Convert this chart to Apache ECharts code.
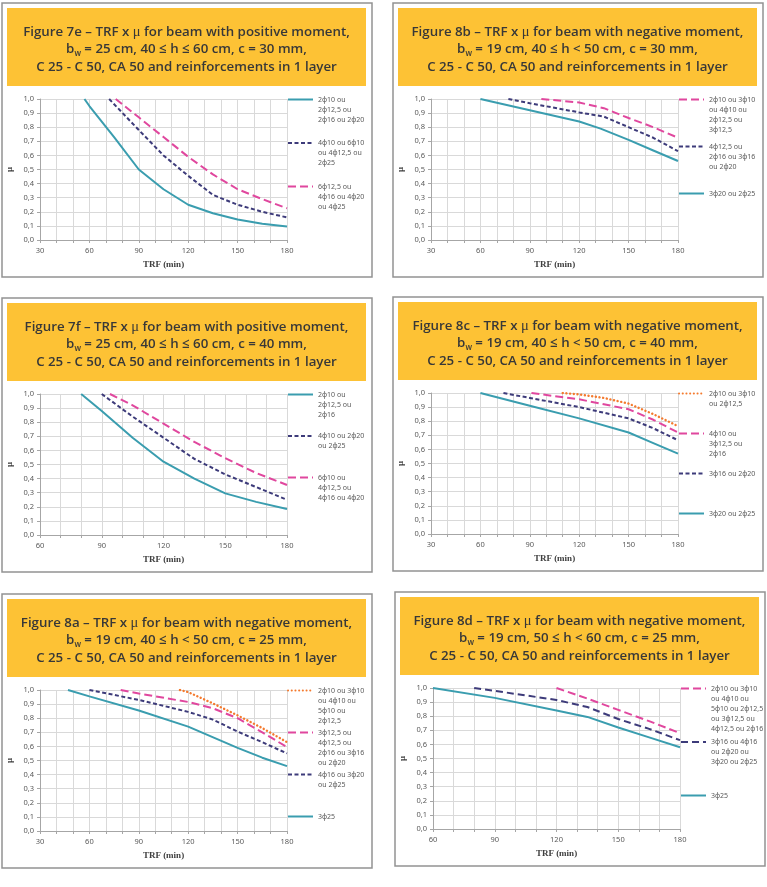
<!DOCTYPE html>
<html>
<head>
<meta charset="utf-8">
<script src="https://cdn.jsdelivr.net/npm/echarts@6.0.0/dist/echarts.min.js"></script>
<style>
  html, body { margin: 0; padding: 0; background: #fff; }
  #main { width: 767px; height: 887px; }
</style>
</head>
<body>
<div id="main"></div>
<script>
// ---- data: [TRF (min), mu] ----
var f7e_teal = [[57, 1.0], [60, 0.95], [75, 0.73], [90, 0.5], [105, 0.36], [120, 0.25], [135, 0.19], [150, 0.145], [165, 0.115], [180, 0.095]];
var f7e_navy = [[72, 1.0], [90, 0.78], [105, 0.6], [120, 0.455], [135, 0.32], [150, 0.25], [165, 0.2], [180, 0.16]];
var f7e_pink = [[76, 1.0], [90, 0.87], [105, 0.73], [120, 0.59], [135, 0.465], [150, 0.36], [165, 0.29], [180, 0.225]];

var f8b_pink = [[97, 1.0], [120, 0.975], [135, 0.935], [150, 0.865], [165, 0.8], [180, 0.725]];
var f8b_navy = [[77, 1.0], [90, 0.97], [120, 0.905], [135, 0.875], [150, 0.8], [165, 0.725], [180, 0.63]];
var f8b_teal = [[60, 1.0], [90, 0.92], [120, 0.84], [133, 0.79], [150, 0.71], [165, 0.635], [180, 0.56]];

var f7f_teal = [[80, 1.0], [90, 0.88], [105, 0.69], [120, 0.52], [135, 0.4], [150, 0.295], [165, 0.235], [180, 0.185]];
var f7f_navy = [[90, 1.0], [105, 0.84], [120, 0.69], [135, 0.54], [150, 0.43], [165, 0.34], [180, 0.25]];
var f7f_pink = [[94, 1.0], [105, 0.92], [120, 0.79], [135, 0.66], [150, 0.545], [165, 0.44], [180, 0.355]];

var f8c_orange = [[110, 1.0], [120, 0.99], [135, 0.965], [150, 0.925], [165, 0.85], [180, 0.765]];
var f8c_pink = [[91, 1.0], [120, 0.955], [150, 0.885], [165, 0.81], [180, 0.72]];
var f8c_navy = [[74, 1.0], [90, 0.965], [120, 0.9], [150, 0.82], [165, 0.75], [180, 0.665]];
var f8c_teal = [[60, 1.0], [90, 0.91], [120, 0.82], [150, 0.72], [165, 0.645], [180, 0.57]];

var f8a_orange = [[115, 1.0], [120, 0.985], [135, 0.905], [150, 0.82], [165, 0.73], [180, 0.63]];
var f8a_pink = [[79, 1.0], [90, 0.975], [120, 0.915], [135, 0.87], [150, 0.8], [165, 0.7], [180, 0.595]];
var f8a_navy = [[60, 1.0], [90, 0.93], [120, 0.845], [135, 0.79], [150, 0.705], [165, 0.63], [180, 0.55]];
var f8a_teal = [[47, 1.0], [60, 0.955], [90, 0.855], [120, 0.74], [150, 0.59], [165, 0.52], [180, 0.46]];

var f8d_pink = [[120, 1.0], [135, 0.925], [150, 0.845], [165, 0.765], [180, 0.68]];
var f8d_navy = [[80, 1.0], [90, 0.98], [120, 0.915], [135, 0.865], [150, 0.78], [165, 0.71], [180, 0.63]];
var f8d_teal = [[60, 1.0], [90, 0.93], [120, 0.84], [135, 0.795], [150, 0.72], [165, 0.65], [180, 0.58]];

// line looks
var looks = {
    teal: {color: '#3a9daf', width: 2, type: 'solid'},
    navy: {color: '#3d3b7a', width: 2, type: [4, 2.5]},
    navyLong: {color: '#3d3b7a', width: 2, type: [7, 4]},
    pink: {color: '#e0479e', width: 2, type: [8, 4]},
    orange: {color: '#f47a2e', width: 2.4, type: [0.1, 3.6], cap: 'round'}
};

var figures = [
    {num: '7e', moment: 'positive', bw: 25, hRange: '40 ≤ h ≤ 60 cm', c: 30, xMin: 30,
     ox: 2, oy: 3, step: 43.5,
     lines: [
        {name: '2ϕ10 ou\n2ϕ12,5 ou\n2ϕ16 ou 2ϕ20', look: 'teal', data: f7e_teal},
        {name: '4ϕ10 ou 6ϕ10\nou 4ϕ12,5 ou\n2ϕ25', look: 'navy', data: f7e_navy},
        {name: '6ϕ12,5 ou\n4ϕ16 ou 4ϕ20\nou 4ϕ25', look: 'pink', data: f7e_pink}
     ]},
    {num: '8b', moment: 'negative', bw: 19, hRange: '40 ≤ h < 50 cm', c: 30, xMin: 30,
     ox: 393, oy: 3, step: 47,
     lines: [
        {name: '2ϕ10 ou 3ϕ10\nou 4ϕ10 ou\n2ϕ12,5 ou\n3ϕ12,5', look: 'pink', data: f8b_pink},
        {name: '4ϕ12,5 ou\n2ϕ16 ou 3ϕ16\nou 2ϕ20', look: 'navy', data: f8b_navy},
        {name: '3ϕ20 ou 2ϕ25', look: 'teal', data: f8b_teal}
     ]},
    {num: '7f', moment: 'positive', bw: 25, hRange: '40 ≤ h ≤ 60 cm', c: 40, xMin: 60,
     ox: 2, oy: 298, step: 41.5,
     lines: [
        {name: '2ϕ10 ou\n2ϕ12,5 ou\n2ϕ16', look: 'teal', data: f7f_teal},
        {name: '4ϕ10 ou 2ϕ20\nou 2ϕ25', look: 'navy', data: f7f_navy},
        {name: '6ϕ10 ou\n4ϕ12,5 ou\n4ϕ16 ou 4ϕ20', look: 'pink', data: f7f_pink}
     ]},
    {num: '8c', moment: 'negative', bw: 19, hRange: '40 ≤ h < 50 cm', c: 40, xMin: 30,
     ox: 393, oy: 297, step: 40,
     lines: [
        {name: '2ϕ10 ou 3ϕ10\nou 2ϕ12,5', look: 'orange', data: f8c_orange},
        {name: '4ϕ10 ou\n3ϕ12,5 ou\n2ϕ16', look: 'pink', data: f8c_pink},
        {name: '3ϕ16 ou 2ϕ20', look: 'navy', data: f8c_navy},
        {name: '3ϕ20 ou 2ϕ25', look: 'teal', data: f8c_teal}
     ]},
    {num: '8a', moment: 'negative', bw: 19, hRange: '40 ≤ h < 50 cm', c: 25, xMin: 30,
     ox: 2, oy: 594, step: 42,
     lines: [
        {name: '2ϕ10 ou 3ϕ10\nou 4ϕ10 ou\n5ϕ10 ou\n2ϕ12,5', look: 'orange', data: f8a_orange},
        {name: '3ϕ12,5 ou\n4ϕ12,5 ou\n2ϕ16 ou 3ϕ16\nou 2ϕ20', look: 'pink', data: f8a_pink},
        {name: '4ϕ16 ou 3ϕ20\nou 2ϕ25', look: 'navy', data: f8a_navy},
        {name: '3ϕ25', look: 'teal', data: f8a_teal}
     ]},
    {num: '8d', moment: 'negative', bw: 19, hRange: '50 ≤ h < 60 cm', c: 25, xMin: 60,
     ox: 395, oy: 592, step: 53.5,
     lines: [
        {name: '2ϕ10 ou 3ϕ10\nou 4ϕ10 ou\n5ϕ10 ou 2ϕ12,5\nou 3ϕ12,5 ou\n4ϕ12,5 ou 2ϕ16', look: 'pink', data: f8d_pink},
        {name: '3ϕ16 ou 4ϕ16\nou 2ϕ20 ou\n3ϕ20 ou 2ϕ25', look: 'navyLong', data: f8d_navy},
        {name: '3ϕ25', look: 'teal', data: f8d_teal}
     ]}
];

var LH = 10;          // legend line height
var gridColor = '#d9d9d9';
var labelColor = '#595959';
var titleColor = '#383838';
var titleFont = 'Open Sans';

var chart = echarts.init(document.getElementById('main'), null, {renderer: 'canvas'});

var graphic = [], title = [], grid = [], xAxis = [], yAxis = [], series = [], legend = [];

figures.forEach(function (f, i) {
    var ox = f.ox, oy = f.oy;

    // panel frame + yellow heading
    graphic.push({type: 'rect', z: -10, silent: true,
        shape: {x: ox, y: oy, width: 370, height: 274},
        style: {fill: '#fff', stroke: '#929292', lineWidth: 1.5}});
    graphic.push({type: 'rect', z: -9, silent: true,
        shape: {x: ox + 5, y: oy + 5, width: 359, height: 78},
        style: {fill: '#fdc235'}});

    title.push({
        text: '{t|Figure ' + f.num + ' – TRF x }{mu|μ}{t| for beam with ' + f.moment + ' moment,}\n' +
              '{t|b}{s|w}{t| = ' + f.bw + ' cm, ' + f.hRange + ', c = ' + f.c + ' mm,}\n' +
              '{t|C 25 - C 50, CA 50 and reinforcements in 1 layer}',
        left: ox + 184.5,
        top: oy + 20,
        textAlign: 'center',
        padding: 0,
        textStyle: {
            fontWeight: 'normal',
            rich: {
                t: {fontFamily: titleFont, fontSize: 13.3, fontWeight: 600, color: titleColor, lineHeight: 17.5},
                mu: {fontFamily: 'Liberation Serif', fontSize: 14.5, fontWeight: 'normal', color: titleColor, lineHeight: 17.5},
                s: {fontFamily: titleFont, fontSize: 8, fontWeight: 600, color: titleColor, lineHeight: 17.5, verticalAlign: 'bottom'}
            }
        }
    });

    grid.push({left: ox + 38, top: oy + 96, width: 247, height: 141});

    xAxis.push({
        gridIndex: i, type: 'value', min: f.xMin, max: 180, interval: 30,
        name: 'TRF (min)', nameLocation: 'middle', nameGap: 20,
        nameTextStyle: {fontFamily: 'Liberation Serif', fontWeight: 'bold', fontSize: 9, color: '#404040'},
        axisLine: {show: true, lineStyle: {color: '#a6a6a6', width: 1}},
        axisTick: {show: true, length: 3, lineStyle: {color: '#a6a6a6'}},
        minorTick: {show: true, splitNumber: 3, length: 3, lineStyle: {color: '#a6a6a6'}},
        axisLabel: {fontFamily: 'Noto Sans', fontSize: 7.5, color: labelColor, margin: 7},
        splitLine: {show: true, lineStyle: {color: gridColor, width: 1}},
        minorSplitLine: {show: true, lineStyle: {color: gridColor, width: 1}}
    });

    yAxis.push({
        gridIndex: i, type: 'value', min: 0, max: 1, interval: 0.1,
        name: 'μ', nameLocation: 'middle', nameGap: 26, nameRotate: 90,
        nameTextStyle: {fontFamily: 'Liberation Serif', fontWeight: 'bold', fontSize: 9, color: '#404040'},
        axisLine: {show: true, lineStyle: {color: '#a6a6a6', width: 1}},
        axisTick: {show: true, length: 3, lineStyle: {color: '#a6a6a6'}},
        axisLabel: {
            fontFamily: 'Noto Sans', fontSize: 7.5, color: labelColor, margin: 6,
            formatter: function (v) { return v.toFixed(1).replace('.', ','); }
        },
        splitLine: {show: true, lineStyle: {color: gridColor, width: 1}}
    });

    f.lines.forEach(function (l, k) {
        var lk = looks[l.look];
        series.push({
            type: 'line', name: l.name, xAxisIndex: i, yAxisIndex: i,
            data: l.data, symbol: 'none', smooth: false,
            color: lk.color,
            lineStyle: {color: lk.color, width: lk.width, type: lk.type, cap: lk.cap || 'butt'},
            emphasis: {disabled: true}
        });

        // one legend per entry so the icon lines up with the first text line
        var n = l.name.split('\n').length;
        var h = (2 * n - 1) * LH;
        legend.push({
            data: [l.name],
            left: ox + 285,
            top: oy + 96.5 + k * f.step - h / 2,
            padding: 0,
            itemWidth: 25, itemHeight: 6,
            itemStyle: {opacity: 0},
            formatter: function (name) {
                return new Array(n).join('\n') + name;
            },
            textStyle: {fontFamily: 'Noto Sans', fontSize: 7, color: labelColor, lineHeight: LH}
        });
    });
});

chart.setOption({
    backgroundColor: '#fff',
    animation: false,
    graphic: graphic,
    title: title,
    grid: grid,
    xAxis: xAxis,
    yAxis: yAxis,
    legend: legend,
    series: series
});
</script>
</body>
</html>
